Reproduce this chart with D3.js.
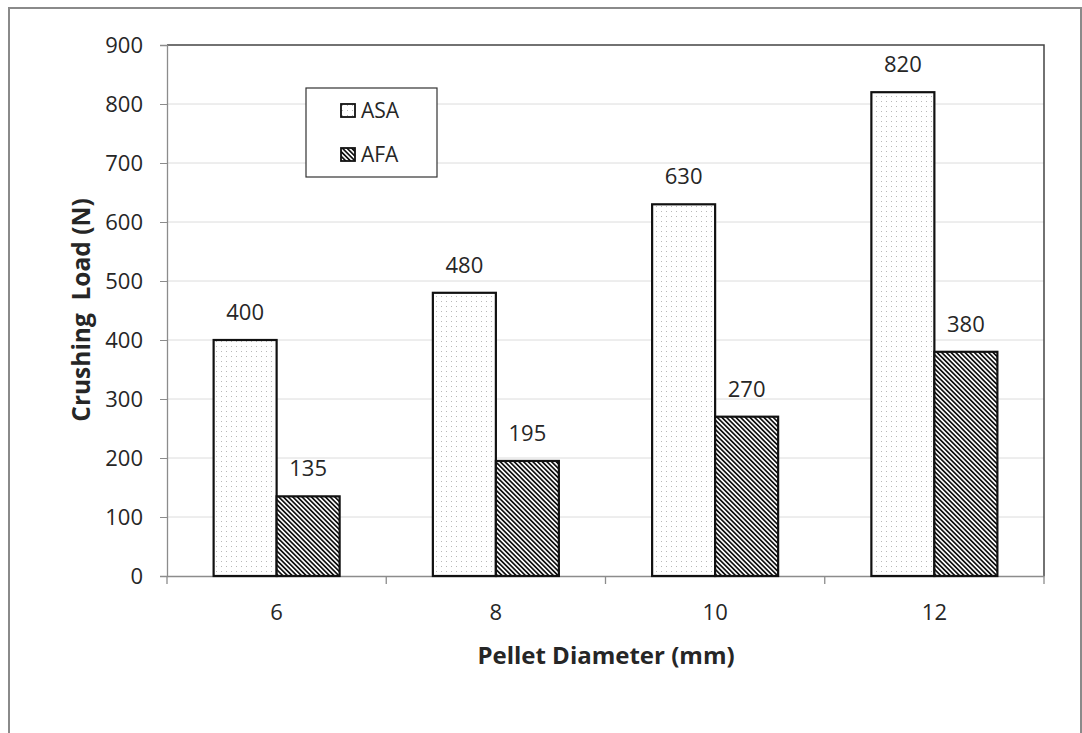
<!DOCTYPE html>
<html><head><meta charset="utf-8">
<script src="https://cdn.jsdelivr.net/npm/d3@7"></script>
<style>body{margin:0;background:#fff}svg{display:block}text{font-family:"Open Sans","Noto Sans",sans-serif;fill:#262626}</style>
</head><body><svg id="c" width="1082" height="733"></svg>
<script>
const categories = ["6","8","10","12"];
const seriesNames = ["ASA","AFA"];
const asa = [400,480,630,820];
const afa = [135,195,270,380];
const yTicks = [0,100,200,300,400,500,600,700,800,900];

const svg = d3.select("#c");
const m = {l:167, t:45, r:1044, b:576};
const defs = svg.append("defs");
const dots = defs.append("pattern").attr("id","dots").attr("patternUnits","userSpaceOnUse").attr("width",10).attr("height",10);
dots.append("rect").attr("width",10).attr("height",10).attr("fill","#fff");
[[1,1],[6,1],[1,6],[6,6]].forEach(p=>dots.append("rect").attr("x",p[0]).attr("y",p[1]).attr("width",1).attr("height",1).attr("fill","#b8b8b8"));
const hatch = defs.append("pattern").attr("id","hatch").attr("patternUnits","userSpaceOnUse").attr("width",3.3).attr("height",10).attr("patternTransform","rotate(-45)");
hatch.append("rect").attr("width",3.3).attr("height",10).attr("fill","#fff");
hatch.append("rect").attr("x",0).attr("y",0).attr("width",1.7).attr("height",10).attr("fill","#111");

// outer frame
svg.append("path").attr("d","M9,733 V8 H1081 V733").attr("fill","none").attr("stroke","#8a8a8a").attr("stroke-width",2);

const x = d3.scaleBand().domain(categories).range([m.l,m.r]);
const xs = d3.scaleBand().domain(seriesNames).range([0,x.bandwidth()]).paddingOuter(0.74).paddingInner(0);
const y = d3.scaleLinear().domain([0,900]).range([m.b,m.t]);

// gridlines
svg.append("g").selectAll("line").data(yTicks.filter(d=>d>0&&d<900)).join("line")
  .attr("x1",m.l).attr("x2",m.r).attr("y1",d=>y(d)).attr("y2",d=>y(d)).attr("stroke","#dcdcdc").attr("stroke-width",1);
// plot border top/right
svg.append("path").attr("d",`M${m.l},${m.t} H${m.r} V${m.b}`).attr("fill","none").attr("stroke","#444").attr("stroke-width",1.5);

// y axis
const ya = svg.append("g").attr("transform",`translate(${m.l},0)`).call(d3.axisLeft(y).tickValues(yTicks).tickSize(7).tickPadding(17));
ya.select(".domain").attr("stroke","#8c8c8c").attr("stroke-width",1.3);
ya.selectAll(".tick line").attr("stroke","#8c8c8c");
ya.selectAll("text").attr("font-size",22).attr("fill","#262626").style("font-family","Open Sans");
// x axis
const xa = svg.append("g").attr("transform",`translate(0,${m.b})`).call(d3.axisBottom(x).tickSize(0).tickPadding(28));
xa.select(".domain").attr("stroke","#8c8c8c").attr("stroke-width",1.3);
xa.selectAll("text").attr("font-size",22).attr("fill","#262626").style("font-family","Open Sans");
svg.append("g").selectAll("line").data(d3.range(categories.length+1)).join("line")
  .attr("x1",i=>m.l+i*x.step()).attr("x2",i=>m.l+i*x.step()).attr("y1",m.b).attr("y2",m.b+8).attr("stroke","#8c8c8c").attr("stroke-width",1.3);

// bars
const data = [];
categories.forEach((c,i)=>{data.push({c,s:"ASA",v:asa[i]});data.push({c,s:"AFA",v:afa[i]});});
svg.append("g").selectAll("rect").data(data).join("rect")
  .attr("x",d=>x(d.c)+xs(d.s)).attr("width",xs.bandwidth()).attr("y",d=>y(d.v)).attr("height",d=>y(0)-y(d.v))
  .attr("fill",d=>d.s==="ASA"?"url(#dots)":"url(#hatch)").attr("stroke","#111").attr("stroke-width",2.2);
svg.append("g").selectAll("text").data(data).join("text")
  .attr("x",d=>x(d.c)+xs(d.s)+xs.bandwidth()/2).attr("y",d=>y(d.v)-20).attr("text-anchor","middle")
  .attr("font-size",22).text(d=>d.v);

// axis titles
svg.append("text").attr("x",606).attr("y",664).attr("text-anchor","middle").attr("font-size",24).attr("font-weight","bold").text("Pellet Diameter (mm)");
svg.append("text").attr("transform","translate(90,310) rotate(-90)").attr("text-anchor","middle").attr("font-size",24.5).attr("font-weight","bold").style("white-space","pre").text("Crushing  Load (N)");

// legend
const lg = svg.append("g");
lg.append("rect").attr("x",306).attr("y",88).attr("width",131).attr("height",89).attr("fill","#fff").attr("stroke","#333").attr("stroke-width",1.2);
const le = lg.selectAll("g").data(seriesNames).join("g").attr("transform",(d,i)=>`translate(341,${104+i*44})`);
le.append("rect").attr("width",14).attr("height",13).attr("fill",d=>d==="ASA"?"url(#dots)":"url(#hatch)").attr("stroke","#111").attr("stroke-width",1.8);
le.append("text").attr("x",20).attr("y",14).attr("font-size",21).text(d=>d);
</script></body></html>
